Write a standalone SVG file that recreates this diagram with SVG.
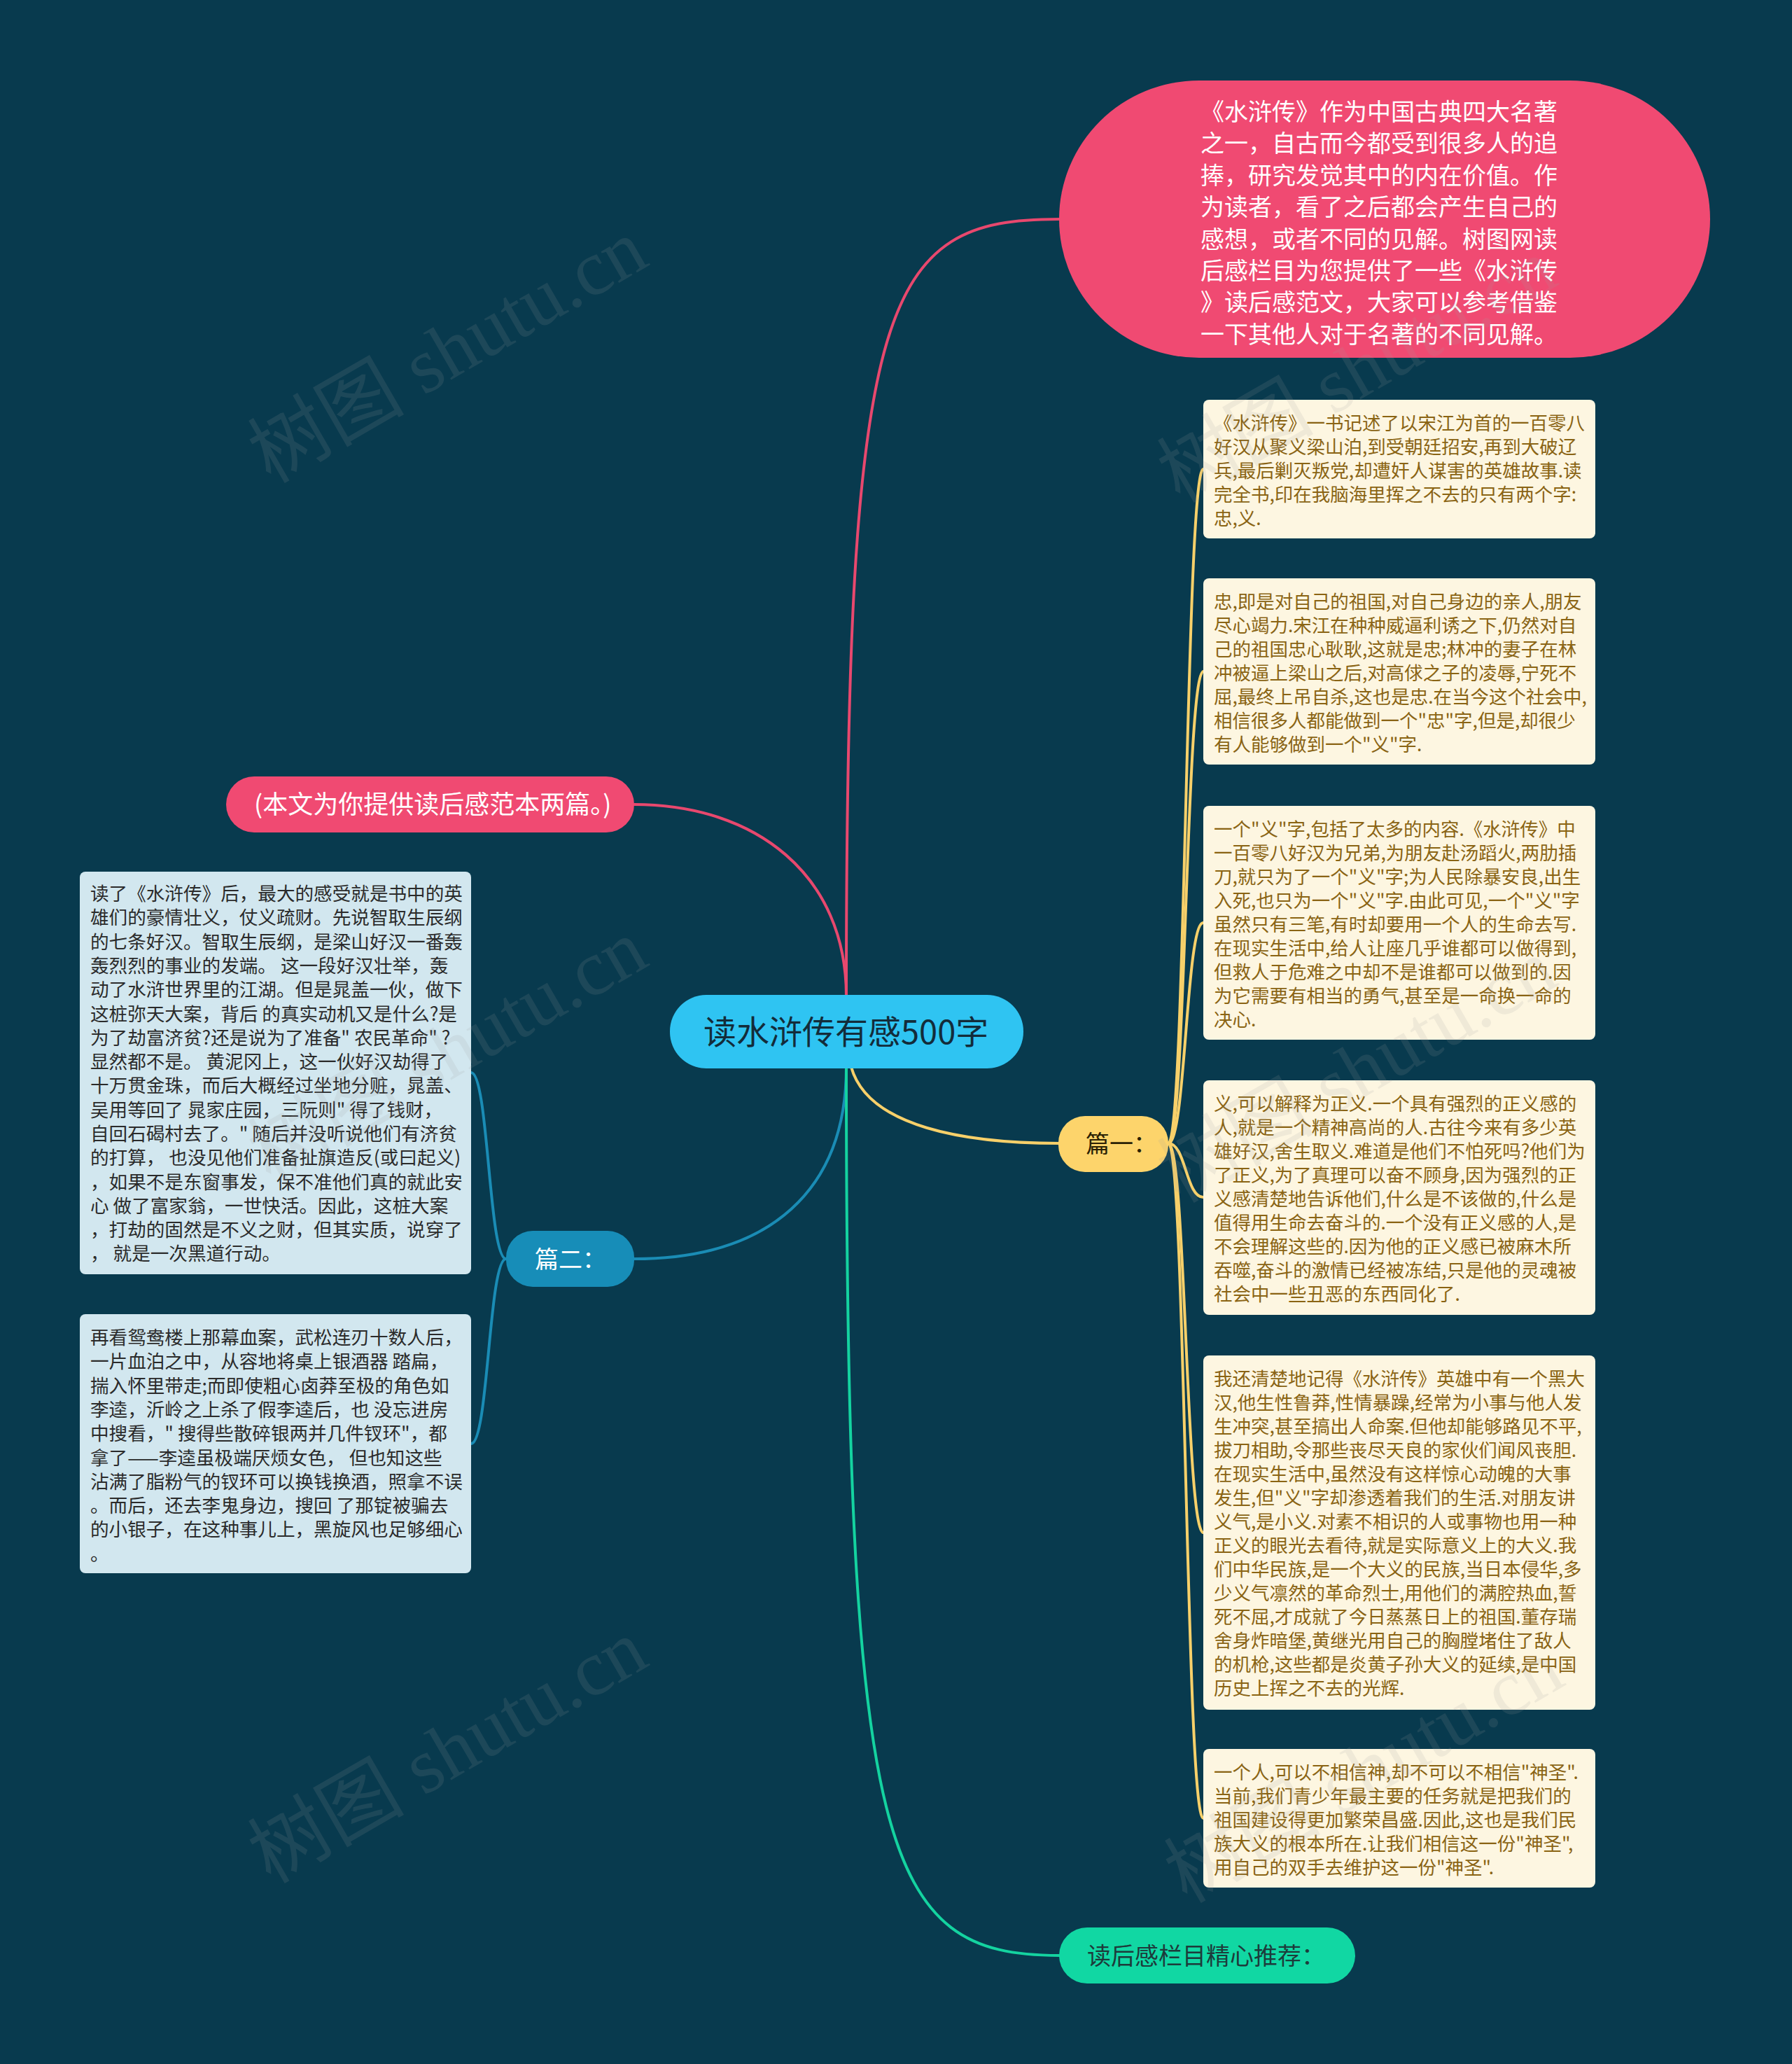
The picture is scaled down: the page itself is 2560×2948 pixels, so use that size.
<svg xmlns="http://www.w3.org/2000/svg" width="2560" height="2948" viewBox="0 0 2560 2948">
<defs>
<style>
text{font-family:"Noto Sans CJK SC","Noto Sans",sans-serif;white-space:pre}
.card-y{fill:#fdf6e1}
.ty{font-size:26.5px;fill:#8a6414}
.card-b{fill:#d2e7ef}
.tb{font-size:26.6px;fill:#2b2b2b}
.tw{font-size:34px;fill:#ffffff}
.wm{font-family:"Liberation Serif","Noto Sans CJK SC",serif;font-size:112px;fill:#a0a0a0;opacity:0.14}
.ln{fill:none;stroke-width:4;stroke-linecap:round}
</style>
</defs>
<rect x="0" y="0" width="2560" height="2948" fill="#083a4e"/>

<g id="connectors">
<path class="ln" stroke="#e8486e" d="M1209,1423 C1209,420 1260,313 1513,313"/>
<path class="ln" stroke="#e8486e" d="M1209,1423 C1209,1250 1080,1149 906,1149"/>
<path class="ln" stroke="#f7d06a" d="M1216,1524 C1240,1610 1380,1633 1513,1633"/>
<path class="ln" stroke="#1a8cb5" d="M1209,1524 C1209,1700 1100,1798 906,1798"/>
<path class="ln" stroke="#14d3a0" d="M1209,1524 C1209,2650 1260,2793 1513,2793"/>
<g stroke="#f7d06a" class="ln" fill="none">
<path class="ln" d="M1669,1633 C1694,1633 1694,670 1719,670"/>
<path class="ln" d="M1669,1633 C1694,1633 1694,959 1719,959"/>
<path class="ln" d="M1669,1633 C1694,1633 1694,1318 1719,1318"/>
<path class="ln" d="M1669,1633 C1694,1633 1694,1710 1719,1710"/>
<path class="ln" d="M1669,1633 C1694,1633 1694,2189 1719,2189"/>
<path class="ln" d="M1669,1633 C1694,1633 1694,2597 1719,2597"/>
</g>
<g stroke="#1a8cb5" class="ln" fill="none">
<path class="ln" d="M723,1798 C698,1798 698,1532 673,1532"/>
<path class="ln" d="M723,1798 C698,1798 698,2062 673,2062"/>
</g>
</g>

<g id="node-intro">
<rect x="1513" y="115" width="930" height="396" rx="200" ry="198" fill="#f04a72"/>
<text class="tw" x="1715" y="172">《水浒传》作为中国古典四大名著</text>
<text class="tw" x="1715" y="217">之一，自古而今都受到很多人的追</text>
<text class="tw" x="1715" y="263">捧，研究发觉其中的内在价值。作</text>
<text class="tw" x="1715" y="308">为读者，看了之后都会产生自己的</text>
<text class="tw" x="1715" y="354">感想，或者不同的见解。树图网读</text>
<text class="tw" x="1715" y="399">后感栏目为您提供了一些《水浒传</text>
<text class="tw" x="1715" y="444">》读后感范文，大家可以参考借鉴</text>
<text class="tw" x="1715" y="490">一下其他人对于名著的不同见解。</text>
</g>

<g id="node-note">
<rect x="323" y="1109" width="583" height="80" rx="40" fill="#f04a72"/>
<text x="363" y="1162" style="font-size:36px;fill:#ffffff">(本文为你提供读后感范本两篇。)</text>
</g>

<g id="node-root">
<rect x="957" y="1421" width="505" height="105" rx="52" fill="#2fc4f2"/>
<text x="1005" y="1491" style="font-size:47px;fill:#132c3a">读水浒传有感500字</text>
</g>

<g id="node-p1">
<rect x="1512" y="1594" width="157" height="80" rx="38" fill="#fdd46b"/>
<text x="1551" y="1646" style="font-size:34px;fill:#2a2105">篇一：</text>
</g>

<g id="node-p2">
<rect x="723" y="1758" width="183" height="80" rx="38" fill="#178db8"/>
<text class="tw" x="764" y="1811">篇二：</text>
</g>

<g id="node-rec">
<rect x="1513" y="2753" width="423" height="80" rx="40" fill="#11d7a3"/>
<text x="1553" y="2806" style="font-size:34px;fill:#1d3b3b">读后感栏目精心推荐：</text>
</g>

<g id="card-r1">
<rect class="card-y" x="1719" y="571" width="560" height="198" rx="8"/>
<text class="ty" x="1734" y="614">《水浒传》一书记述了以宋江为首的一百零八</text>
<text class="ty" x="1734" y="648">好汉从聚义梁山泊,到受朝廷招安,再到大破辽</text>
<text class="ty" x="1734" y="682">兵,最后剿灭叛党,却遭奸人谋害的英雄故事.读</text>
<text class="ty" x="1734" y="716">完全书,印在我脑海里挥之不去的只有两个字:</text>
<text class="ty" x="1734" y="750">忠,义.</text>
</g>

<g id="card-r2">
<rect class="card-y" x="1719" y="826" width="560" height="266" rx="8"/>
<text class="ty" x="1734" y="869">忠,即是对自己的祖国,对自己身边的亲人,朋友</text>
<text class="ty" x="1734" y="903">尽心竭力.宋江在种种威逼利诱之下,仍然对自</text>
<text class="ty" x="1734" y="937">己的祖国忠心耿耿,这就是忠;林冲的妻子在林</text>
<text class="ty" x="1734" y="971">冲被逼上梁山之后,对高俅之子的凌辱,宁死不</text>
<text class="ty" x="1734" y="1005">屈,最终上吊自杀,这也是忠.在当今这个社会中,</text>
<text class="ty" x="1734" y="1039">相信很多人都能做到一个"忠"字,但是,却很少</text>
<text class="ty" x="1734" y="1073">有人能够做到一个"义"字.</text>
</g>

<g id="card-r3">
<rect class="card-y" x="1719" y="1151" width="560" height="334" rx="8"/>
<text class="ty" x="1734" y="1194">一个"义"字,包括了太多的内容.《水浒传》中</text>
<text class="ty" x="1734" y="1228">一百零八好汉为兄弟,为朋友赴汤蹈火,两肋插</text>
<text class="ty" x="1734" y="1262">刀,就只为了一个"义"字;为人民除暴安良,出生</text>
<text class="ty" x="1734" y="1296">入死,也只为一个"义"字.由此可见,一个"义"字</text>
<text class="ty" x="1734" y="1330">虽然只有三笔,有时却要用一个人的生命去写.</text>
<text class="ty" x="1734" y="1364">在现实生活中,给人让座几乎谁都可以做得到,</text>
<text class="ty" x="1734" y="1398">但救人于危难之中却不是谁都可以做到的.因</text>
<text class="ty" x="1734" y="1432">为它需要有相当的勇气,甚至是一命换一命的</text>
<text class="ty" x="1734" y="1466">决心.</text>
</g>

<g id="card-r4">
<rect class="card-y" x="1719" y="1543" width="560" height="335" rx="8"/>
<text class="ty" x="1734" y="1586">义,可以解释为正义.一个具有强烈的正义感的</text>
<text class="ty" x="1734" y="1620">人,就是一个精神高尚的人.古往今来有多少英</text>
<text class="ty" x="1734" y="1654">雄好汉,舍生取义.难道是他们不怕死吗?他们为</text>
<text class="ty" x="1734" y="1688">了正义,为了真理可以奋不顾身,因为强烈的正</text>
<text class="ty" x="1734" y="1722">义感清楚地告诉他们,什么是不该做的,什么是</text>
<text class="ty" x="1734" y="1756">值得用生命去奋斗的.一个没有正义感的人,是</text>
<text class="ty" x="1734" y="1790">不会理解这些的.因为他的正义感已被麻木所</text>
<text class="ty" x="1734" y="1824">吞噬,奋斗的激情已经被冻结,只是他的灵魂被</text>
<text class="ty" x="1734" y="1858">社会中一些丑恶的东西同化了.</text>
</g>

<g id="card-r5">
<rect class="card-y" x="1719" y="1936" width="560" height="506" rx="8"/>
<text class="ty" x="1734" y="1979">我还清楚地记得《水浒传》英雄中有一个黑大</text>
<text class="ty" x="1734" y="2013">汉,他生性鲁莽,性情暴躁,经常为小事与他人发</text>
<text class="ty" x="1734" y="2047">生冲突,甚至搞出人命案.但他却能够路见不平,</text>
<text class="ty" x="1734" y="2081">拔刀相助,令那些丧尽天良的家伙们闻风丧胆.</text>
<text class="ty" x="1734" y="2115">在现实生活中,虽然没有这样惊心动魄的大事</text>
<text class="ty" x="1734" y="2149">发生,但"义"字却渗透着我们的生活.对朋友讲</text>
<text class="ty" x="1734" y="2183">义气,是小义.对素不相识的人或事物也用一种</text>
<text class="ty" x="1734" y="2217">正义的眼光去看待,就是实际意义上的大义.我</text>
<text class="ty" x="1734" y="2251">们中华民族,是一个大义的民族,当日本侵华,多</text>
<text class="ty" x="1734" y="2285">少义气凛然的革命烈士,用他们的满腔热血,誓</text>
<text class="ty" x="1734" y="2319">死不屈,才成就了今日蒸蒸日上的祖国.董存瑞</text>
<text class="ty" x="1734" y="2353">舍身炸暗堡,黄继光用自己的胸膛堵住了敌人</text>
<text class="ty" x="1734" y="2387">的机枪,这些都是炎黄子孙大义的延续,是中国</text>
<text class="ty" x="1734" y="2421">历史上挥之不去的光辉.</text>
</g>

<g id="card-r6">
<rect class="card-y" x="1719" y="2498" width="560" height="198" rx="8"/>
<text class="ty" x="1734" y="2541">一个人,可以不相信神,却不可以不相信"神圣".</text>
<text class="ty" x="1734" y="2575">当前,我们青少年最主要的任务就是把我们的</text>
<text class="ty" x="1734" y="2609">祖国建设得更加繁荣昌盛.因此,这也是我们民</text>
<text class="ty" x="1734" y="2643">族大义的根本所在.让我们相信这一份"神圣",</text>
<text class="ty" x="1734" y="2677">用自己的双手去维护这一份"神圣".</text>
</g>

<g id="card-l1">
<rect class="card-b" x="114" y="1245" width="559" height="575" rx="8"/>
<text class="tb" x="129" y="1286">读了《水浒传》后，最大的感受就是书中的英</text>
<text class="tb" x="129" y="1320">雄们的豪情壮义，仗义疏财。先说智取生辰纲</text>
<text class="tb" x="129" y="1355">的七条好汉。智取生辰纲，是梁山好汉一番轰</text>
<text class="tb" x="129" y="1389">轰烈烈的事业的发端。 这一段好汉壮举，轰</text>
<text class="tb" x="129" y="1423">动了水浒世界里的江湖。但是晁盖一伙，做下</text>
<text class="tb" x="129" y="1458">这桩弥天大案，背后 的真实动机又是什么?是</text>
<text class="tb" x="129" y="1492">为了劫富济贫?还是说为了准备" 农民革命" ?</text>
<text class="tb" x="129" y="1526">显然都不是。 黄泥冈上，这一伙好汉劫得了</text>
<text class="tb" x="129" y="1560">十万贯金珠，而后大概经过坐地分赃，晁盖、</text>
<text class="tb" x="129" y="1595">吴用等回了 晁家庄园，三阮则" 得了钱财，</text>
<text class="tb" x="129" y="1629">自回石碣村去了。" 随后并没听说他们有济贫</text>
<text class="tb" x="129" y="1663">的打算， 也没见他们准备扯旗造反(或曰起义)</text>
<text class="tb" x="129" y="1698">，如果不是东窗事发，保不准他们真的就此安</text>
<text class="tb" x="129" y="1732">心 做了富家翁，一世快活。因此，这桩大案</text>
<text class="tb" x="129" y="1766">，打劫的固然是不义之财，但其实质，说穿了</text>
<text class="tb" x="129" y="1800">， 就是一次黑道行动。</text>
</g>

<g id="card-l2">
<rect class="card-b" x="114" y="1877" width="559" height="370" rx="8"/>
<text class="tb" x="129" y="1920">再看鸳鸯楼上那幕血案，武松连刃十数人后，</text>
<text class="tb" x="129" y="1954">一片血泊之中，从容地将桌上银酒器 踏扁，</text>
<text class="tb" x="129" y="1989">揣入怀里带走;而即使粗心卤莽至极的角色如</text>
<text class="tb" x="129" y="2023">李逵，沂岭之上杀了假李逵后，也 没忘进房</text>
<text class="tb" x="129" y="2057">中搜看，" 搜得些散碎银两并几件钗环"，都</text>
<text class="tb" x="129" y="2092">拿了——李逵虽极端厌烦女色， 但也知这些</text>
<text class="tb" x="129" y="2126">沾满了脂粉气的钗环可以换钱换酒，照拿不误</text>
<text class="tb" x="129" y="2160">。而后，还去李鬼身边，搜回 了那锭被骗去</text>
<text class="tb" x="129" y="2194">的小银子，在这种事儿上，黑旋风也足够细心</text>
<text class="tb" x="129" y="2229">。</text>
</g>

<g id="watermarks">
<text class="wm" text-anchor="middle" transform="translate(641,504) rotate(-30)" y="35">树图 shutu.cn</text>
<text class="wm" text-anchor="middle" transform="translate(641,1504) rotate(-30)" y="35">树图 shutu.cn</text>
<text class="wm" text-anchor="middle" transform="translate(641,2504) rotate(-30)" y="35">树图 shutu.cn</text>
<text class="wm" text-anchor="middle" transform="translate(1940,532) rotate(-30)" y="35">树图 shutu.cn</text>
<text class="wm" text-anchor="middle" transform="translate(1940,1532) rotate(-30)" y="35">树图 shutu.cn</text>
<text class="wm" text-anchor="middle" transform="translate(1950,2532) rotate(-30)" y="35">树图 shutu.cn</text>
</g>
</svg>
